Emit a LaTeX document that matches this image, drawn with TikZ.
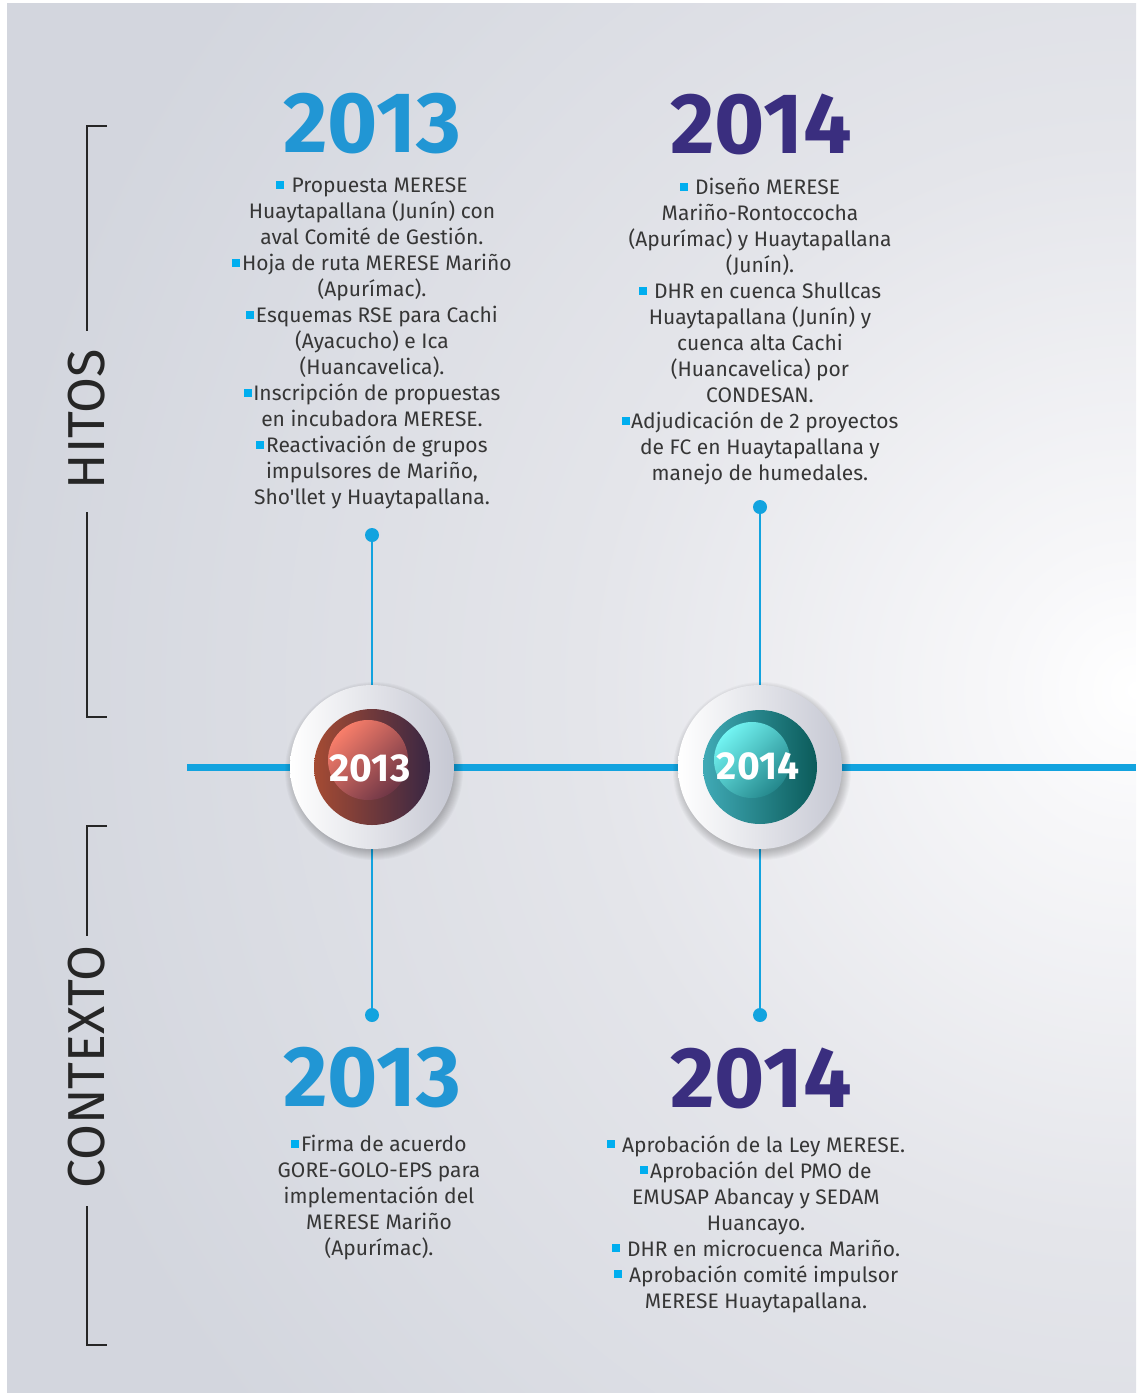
\documentclass[tikz,border=0pt]{standalone}
\usepackage{fontspec}
\setmainfont{Fira Sans}[Ligatures=TeXOff]
\usetikzlibrary{calc}
\definecolor{bggray}{HTML}{D3D6DE}
\definecolor{bgmid}{HTML}{E4E5EA}
\definecolor{bglight}{HTML}{F7F7F9}
\definecolor{blueline}{HTML}{12A3DF}
\definecolor{yr13c}{HTML}{2196D4}
\definecolor{yr14c}{HTML}{3A2E7F}
\definecolor{bulc}{HTML}{00AEEF}
\definecolor{txtc}{HTML}{363636}
\definecolor{ringgray}{HTML}{C6C8D3}
\definecolor{r13a}{HTML}{A54B33}
\definecolor{r13b}{HTML}{3A2743}
\definecolor{h13a}{HTML}{F87E6A}
\definecolor{h13b}{HTML}{6E3646}
\definecolor{r14a}{HTML}{40AAB6}
\definecolor{r14b}{HTML}{0B5B5A}
\definecolor{h14a}{HTML}{72F4F2}
\definecolor{h14b}{HTML}{24878C}
\pgfdeclareradialshading{bgsh}{\pgfpoint{0bp}{0bp}}{color(0bp)=(white); color(3bp)=(bglight); color(12bp)=(bgmid); color(25bp)=(bggray); color(50bp)=(bggray)}
\newcommand\bul{\textcolor{bulc}{\rule[0.19em]{0.38em}{0.38em}}\hspace{0.08em}}
\begin{document}
\begin{tikzpicture}[x=1pt,y=-1pt,
  brk/.style={line width=2.2pt,draw=black!85},
  side/.style={font=\fontsize{52}{52}\selectfont,text=black!85,inner sep=0pt},
  yrbig/.style={font=\fontsize{86}{86}\selectfont\bfseries,inner sep=0pt},
  body/.style={font=\fontsize{21}{26}\selectfont,text=txtc,align=center,inner sep=0pt,anchor=north},
  dot/.style={circle,fill=blueline,minimum size=14pt,inner sep=0pt},
  vline/.style={draw=blueline,line width=2pt},
  hline/.style={draw=blueline,line width=7pt},
  circtxt/.style={font=\fontsize{39}{39}\selectfont\bfseries,text=white,inner sep=0pt}]
\useasboundingbox (0,0) rectangle (1136,1393);
\fill[white] (0,0) rectangle (1136,1393);
\begin{scope}
  \clip (7,3) rectangle (1136,1393);
  \fill[bggray] (7,3) rectangle (1136,1393);
  \shade[shading=bgsh] (1136,690) circle[radius=1150pt];
\end{scope}

% side brackets
\node[side,rotate=90] (hitos) at (87,419) {HITOS};
\draw[brk] (107,126) -- (87,126) -- (87,331);
\draw[brk] (87,512) -- (87,717) -- (107,717);
\node[side,rotate=90] (ctx) at (87,1067) {CONTEXTO};
\draw[brk] (107,826) -- (87,826) -- (87,936);
\draw[brk] (87,1206) -- (87,1345) -- (107,1345);

% timeline
\coordinate (c13) at (372,767);
\coordinate (c14) at (760,767);
\coordinate (lineL) at (187,767);
\coordinate (lineR) at (1136,767);
\draw[hline] (lineL) -- (c13) -- (c14) -- (lineR);

\node[dot] (d13t) at (372,535) {};
\node[dot] (d13b) at (372,1015) {};
\node[dot] (d14t) at (760,507) {};
\node[dot] (d14b) at (760,1015) {};
\draw[vline] (d13t) -- (c13) -- (d13b);
\draw[vline] (d14t) -- (c14) -- (d14b);

% circles
\foreach \c in {c13,c14}{
  \foreach \i in {1,...,10}{
    \fill[black,opacity=0.025] ([shift={(2,4)}]\c) circle[radius={(79+\i)*1pt}];
  }
  \shade[left color=white,right color=ringgray] (\c) circle[radius=82pt];
}
\shade[left color=r13a,right color=r13b] (c13) circle[radius=58pt];
\shade[top color=h13a,bottom color=h13b,shading angle=45] ([shift={(-4,-7)}]c13) circle[radius=40pt];
\shade[left color=r14a,right color=r14b] (c14) circle[radius=57pt];
\shade[top color=h14a,bottom color=h14b,shading angle=45] ([shift={(-8,-7)}]c14) circle[radius=38pt];
\node[circtxt] (t13c) at (370,768) {2013};
\node[circtxt] (t14c) at (758,766) {2014};

% year headings
\node[yrbig,text=yr13c] (y13t) at (372,124) {2013};
\node[yrbig,text=yr14c] (y14t) at (761,124) {2014};
\node[yrbig,text=yr13c] (y13b) at (372,1078) {2013};
\node[yrbig,text=yr14c] (y14b) at (761,1078) {2014};

% texts
\node[body] (b13t) at (372,178) {\bul\ Propuesta MERESE\\
Huaytapallana (Junín) con\\
aval Comité de Gestión.\\
\bul Hoja de ruta MERESE Mariño\\
(Apurímac).\\
\bul Esquemas RSE para Cachi\\
(Ayacucho) e Ica\\
(Huancavelica).\\
\bul Inscripción de propuestas\\
en incubadora MERESE.\\
\bul Reactivación de grupos\\
impulsores de Mariño,\\
Sho'llet y Huaytapallana.};

\node[body] (b14t) at (760,178) {\bul\ Diseño MERESE\\
Mariño-Rontoccocha\\
(Apurímac) y Huaytapallana\\
(Junín).\\
\bul\ DHR en cuenca Shullcas\\
Huaytapallana (Junín) y\\
cuenca alta Cachi\\
(Huancavelica) por\\
CONDESAN.\\
\bul Adjudicación de 2 proyectos\\
de FC en Huaytapallana y\\
manejo de humedales.};

\node[body] (b13b) at (379,1135) {\bul Firma de acuerdo\\
GORE-GOLO-EPS para\\
implementación del\\
MERESE Mariño\\
(Apurímac).};

\node[body] (b14b) at (756,1135) {\bul\ Aprobación de la Ley MERESE.\\
\bul Aprobación del PMO de\\
EMUSAP Abancay y SEDAM\\
Huancayo.\\
\bul\ DHR en microcuenca Mariño.\\
\bul\ Aprobación comité impulsor\\
MERESE Huaytapallana.};
\end{tikzpicture}
\end{document}
